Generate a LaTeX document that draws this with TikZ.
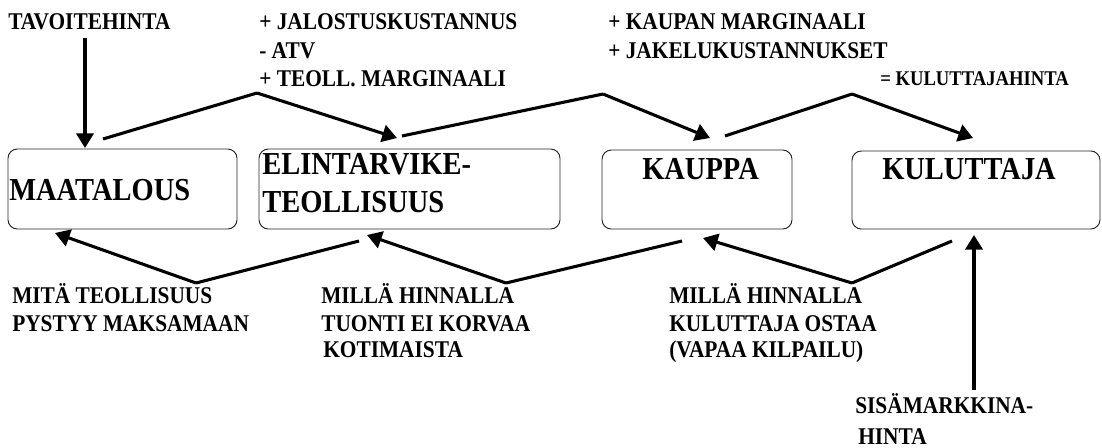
\documentclass[tikz,border=0pt]{standalone}
\usepackage{fontspec}
\setmainfont{Liberation Serif}[FakeStretch=0.89]
\usetikzlibrary{arrows.meta, positioning}

\begin{document}
\begin{tikzpicture}[
        x=0.75pt, y=-0.75pt,
        stage/.style={draw=black!85, rounded corners=7pt, line width=0.7pt, inner sep=0pt, minimum height=60pt},
        stagetext/.style={anchor=base west, inner sep=0pt, font=\fontsize{24}{28}\selectfont\bfseries},
        price/.style={anchor=base west, inner sep=0pt, font=\fontsize{18}{21}\selectfont\bfseries},
        flow/.style={line width=2.3pt, -{Triangle[length=11pt, width=13pt]}},
        link/.style={line width=2.3pt}
    ]
    \useasboundingbox (0,0) rectangle (1102,447);

    % Stages of the chain
    \node[stage, minimum width=171.75pt] (maa) at (122.5,189) {};
    \node[stage, minimum width=225.75pt] (teol) at (409.5,189) {};
    \node[stage, minimum width=142.5pt, minimum height=59.25pt] (kauppa) at (697,189.5) {};
    \node[stage, minimum width=186pt, minimum height=58.5pt] (kul) at (976,190) {};
    \node[stagetext] (maatxt) at (9,200) {MAATALOUS};
    \node[stagetext] (teoltxt1) at (262,174) {ELINTARVIKE-};
    \node[stagetext] (teoltxt2) at (262,212) {TEOLLISUUS};
    \node[stagetext] (kauppatxt) at (642,179) {KAUPPA};
    \node[stagetext] (kultxt) at (882,179) {KULUTTAJA};

    % Price built up from the farm to the consumer
    \node[price] (tavoite) at (8,29) {TAVOITEHINTA};
    \node[price] (jal) at (259,29) {+ JALOSTUSKUSTANNUS};
    \node[price] (atv) at (259,58) {- ATV};
    \node[price] (tmarg) at (259,86) {+ TEOLL. MARGINAALI};
    \node[price] (kmarg) at (608,29) {+ KAUPAN MARGINAALI};
    \node[price] (jak) at (608,58) {+ JAKELUKUSTANNUKSET};
    \node[price, font=\fontsize{15.7}{18}\selectfont\bfseries] (khinta) at (880,85) {= KULUTTAJAHINTA};

    \coordinate (tavtop) at (85,38);
    \coordinate (maain) at (85,148);
    \coordinate (maaout) at (103,139);
    \coordinate (up1) at (257,93);
    \coordinate (teolin) at (397,138);
    \coordinate (teolout) at (402,136);
    \coordinate (up2) at (603,94);
    \coordinate (kauppain) at (710,138);
    \coordinate (kauppaout) at (725,136);
    \coordinate (up3) at (852,94);
    \coordinate (kulin) at (973,138);

    \draw[flow] (tavtop) -- (maain);
    \draw[link] (maaout) -- (up1);
    \draw[flow] (up1) -- (teolin);
    \draw[link] (teolout) -- (up2);
    \draw[flow] (up2) -- (kauppain);
    \draw[link] (kauppaout) -- (up3);
    \draw[flow] (up3) -- (kulin);

    % Price derived back from the consumer
    \node[price] (mita1) at (12,303) {MITÄ TEOLLISUUS};
    \node[price] (mita2) at (12,331) {PYSTYY MAKSAMAAN};
    \node[price] (tuonti1) at (321,303) {MILLÄ HINNALLA};
    \node[price] (tuonti2) at (321,331) {TUONTI EI KORVAA};
    \node[price] (tuonti3) at (323,357) {KOTIMAISTA};
    \node[price] (ostaa1) at (669,303) {MILLÄ HINNALLA};
    \node[price] (ostaa2) at (669,331) {KULUTTAJA OSTAA};
    \node[price] (ostaa3) at (669,357) {(VAPAA KILPAILU)};
    \node[price] (sisa1) at (855,413) {SISÄMARKKINA-};
    \node[price] (sisa2) at (858,444) {HINTA};

    \coordinate (maaback) at (55,233);
    \coordinate (down1) at (196,283);
    \coordinate (teolfrom) at (359,241);
    \coordinate (teolback) at (367,235);
    \coordinate (down2) at (506,283);
    \coordinate (kauppafrom) at (682,241);
    \coordinate (kauppaback) at (703,238);
    \coordinate (down3) at (852,283);
    \coordinate (kulfrom) at (952,241);
    \coordinate (sisatop) at (974,390);
    \coordinate (kulback) at (974,235);

    \draw[flow] (down1) -- (maaback);
    \draw[link] (teolfrom) -- (down1);
    \draw[flow] (down2) -- (teolback);
    \draw[link] (kauppafrom) -- (down2);
    \draw[flow] (down3) -- (kauppaback);
    \draw[link] (kulfrom) -- (down3);
    \draw[flow] (sisatop) -- (kulback);

\end{tikzpicture}
\end{document}
